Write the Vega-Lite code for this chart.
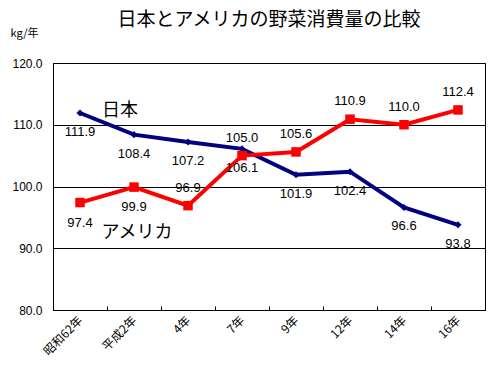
{
  "$schema": "https://vega.github.io/schema/vega-lite/v6.json",
  "width": 432,
  "height": 247,
  "autosize": {"type": "none"},
  "padding": {"left": 53, "top": 63, "right": 10, "bottom": 69},
  "background": "white",
  "title": {
    "text": "日本とアメリカの野菜消費量の比較",
    "font": "Noto Sans CJK JP",
    "fontSize": 19,
    "fontWeight": "normal",
    "color": "black",
    "anchor": "middle",
    "offset": -3
  },
  "config": {
    "view": {"stroke": "black", "strokeWidth": 1},
    "axis": {
      "labelColor": "black",
      "domainColor": "black",
      "tickColor": "black",
      "labelFont": "Liberation Sans"
    }
  },
  "data": {
    "values": [
      {"year": "昭和62年", "series": "日本", "value": 111.9},
      {"year": "平成2年", "series": "日本", "value": 108.4},
      {"year": "4年", "series": "日本", "value": 107.2},
      {"year": "7年", "series": "日本", "value": 106.1},
      {"year": "9年", "series": "日本", "value": 101.9},
      {"year": "12年", "series": "日本", "value": 102.4},
      {"year": "14年", "series": "日本", "value": 96.6},
      {"year": "16年", "series": "日本", "value": 93.8},
      {"year": "昭和62年", "series": "アメリカ", "value": 97.4},
      {"year": "平成2年", "series": "アメリカ", "value": 99.9},
      {"year": "4年", "series": "アメリカ", "value": 96.9},
      {"year": "7年", "series": "アメリカ", "value": 105.0},
      {"year": "9年", "series": "アメリカ", "value": 105.6},
      {"year": "12年", "series": "アメリカ", "value": 110.9},
      {"year": "14年", "series": "アメリカ", "value": 110.0},
      {"year": "16年", "series": "アメリカ", "value": 112.4}
    ]
  },
  "encoding": {
    "x": {
      "field": "year",
      "type": "ordinal",
      "sort": ["昭和62年", "平成2年", "4年", "7年", "9年", "12年", "14年", "16年"],
      "scale": {"paddingInner": 0, "paddingOuter": 0},
      "axis": {
        "title": null,
        "labelAngle": -45,
        "labelAlign": "right",
        "labelBaseline": "middle",
        "labelFont": "Noto Sans CJK JP",
        "labelFontSize": 12,
        "labelPadding": 12,
        "tickBand": "extent",
        "tickSize": -4,
        "domainColor": "black",
        "grid": false
      }
    },
    "y": {
      "field": "value",
      "type": "quantitative",
      "scale": {"domain": [80, 120], "nice": false, "zero": false},
      "axis": {
        "values": [80, 90, 100, 110, 120],
        "format": ".1f",
        "labelFontSize": 12,
        "labelPadding": 11,
        "ticks": false,
        "grid": true,
        "gridColor": "black",
        "gridOpacity": 1,
        "title": "kg/年",
        "titleAngle": 0,
        "titleFont": "Noto Sans CJK JP",
        "titleFontSize": 11,
        "titleFontWeight": "normal",
        "titleAlign": "left",
        "titleBaseline": "middle",
        "titleX": -43,
        "titleY": -30
      }
    }
  },
  "layer": [
    {
      "mark": {"type": "line", "strokeWidth": 4},
      "encoding": {
        "color": {
          "field": "series",
          "type": "nominal",
          "scale": {"domain": ["日本", "アメリカ"], "range": ["#000080", "#FF0000"]},
          "legend": null
        }
      }
    },
    {
      "transform": [{"filter": "datum.series === '日本'"}],
      "mark": {"type": "point", "shape": "diamond", "filled": true, "size": 50, "color": "#000080", "opacity": 1}
    },
    {
      "transform": [{"filter": "datum.series === 'アメリカ'"}],
      "mark": {"type": "point", "shape": "square", "filled": true, "size": 90, "color": "#FF0000", "opacity": 1}
    },
    {
      "transform": [{"filter": "datum.series === '日本'"}],
      "mark": {"type": "text", "dy": 19, "font": "Liberation Sans", "fontSize": 13, "color": "black"},
      "encoding": {"text": {"field": "value", "type": "quantitative", "format": ".1f"}}
    },
    {
      "transform": [{"filter": "datum.series === 'アメリカ' && (datum.year === '昭和62年' || datum.year === '平成2年')"}],
      "mark": {"type": "text", "dy": 20, "font": "Liberation Sans", "fontSize": 13, "color": "black"},
      "encoding": {"text": {"field": "value", "type": "quantitative", "format": ".1f"}}
    },
    {
      "transform": [{"filter": "datum.series === 'アメリカ' && datum.year !== '昭和62年' && datum.year !== '平成2年'"}],
      "mark": {"type": "text", "dy": -18, "font": "Liberation Sans", "fontSize": 13, "color": "black"},
      "encoding": {"text": {"field": "value", "type": "quantitative", "format": ".1f"}}
    },
    {
      "data": {
        "values": [
          {"year": "平成2年", "value": 112.2, "label": "日本"},
          {"year": "平成2年", "value": 92.5, "label": "アメリカ"}
        ]
      },
      "transform": [{"filter": "datum.label === '日本'"}],
      "mark": {"type": "text", "font": "Noto Sans CJK JP", "fontSize": 18, "color": "black", "align": "center", "baseline": "middle", "dx": -14},
      "encoding": {"text": {"field": "label", "type": "nominal"}}
    },
    {
      "data": {
        "values": [
          {"year": "平成2年", "value": 112.2, "label": "日本"},
          {"year": "平成2年", "value": 92.5, "label": "アメリカ"}
        ]
      },
      "transform": [{"filter": "datum.label === 'アメリカ'"}],
      "mark": {"type": "text", "font": "Noto Sans CJK JP", "fontSize": 18, "color": "black", "align": "center", "baseline": "middle", "dx": 3},
      "encoding": {"text": {"field": "label", "type": "nominal"}}
    }
  ]
}
